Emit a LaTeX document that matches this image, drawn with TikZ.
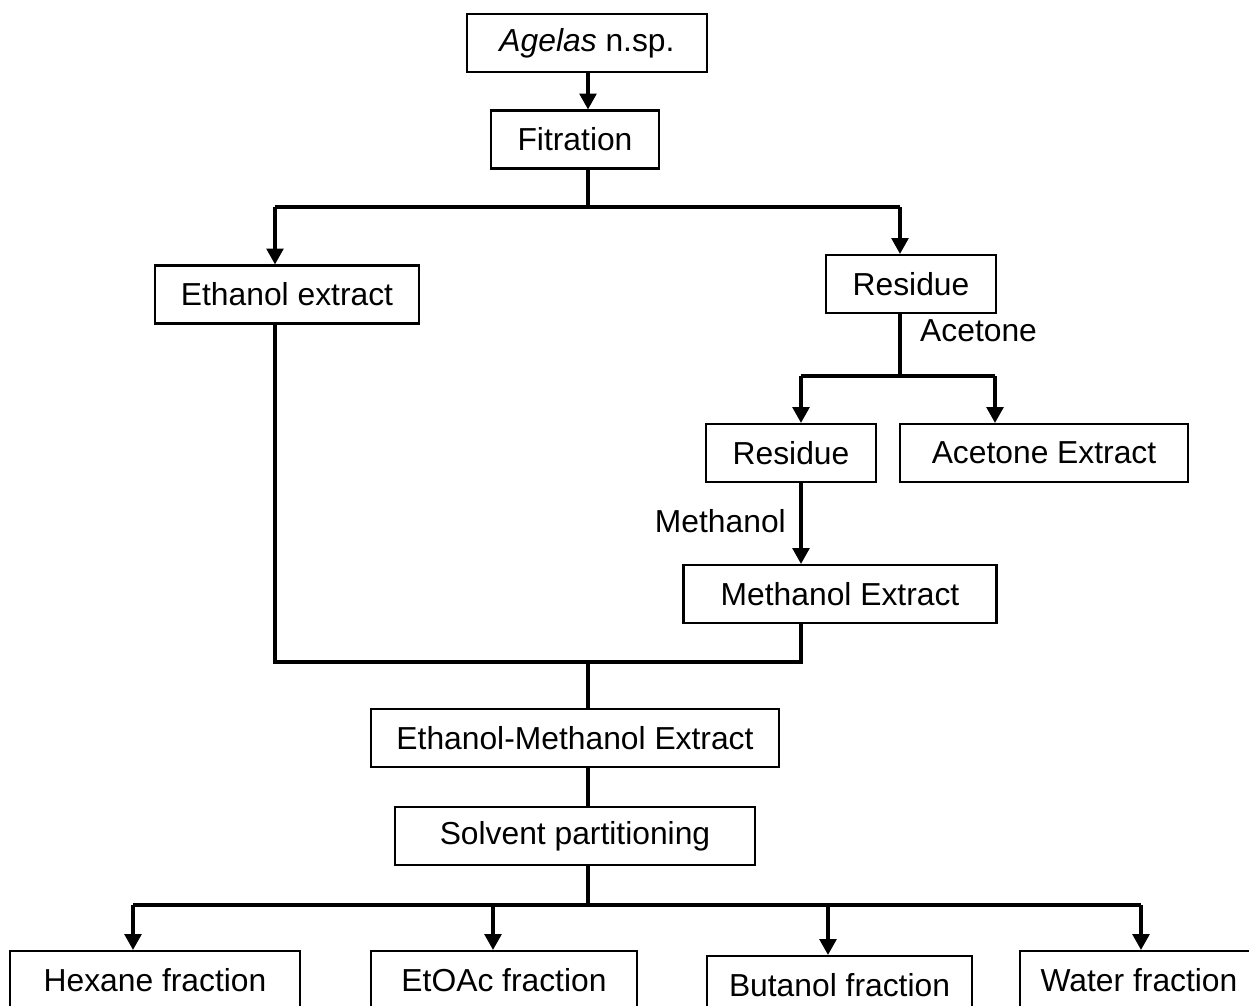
\documentclass[tikz,border=0pt]{standalone}
\usepackage{fontspec}
\setmainfont{Liberation Sans}
\usetikzlibrary{arrows.meta}

\begin{document}
\begin{tikzpicture}[x = 0.02cm, y = -0.02cm, font = \fontsize{18.1}{22}\selectfont,
	box/.style = {draw, black, line width = 1.2pt, inner sep = 0pt, minimum height = 1.16cm},
	link/.style = {draw, black, line width = 1.9pt},
	flow/.style = {link, -{Triangle[width = 9.5pt, length = 9pt]}}]
	\path[use as bounding box, clip] (0, 0) rectangle (1249, 1006);
	\node[box, minimum width = 4.8cm] (agelas) at (587, 43) {\textit{Agelas} n.sp.};
	\node[box, minimum width = 3.36cm] (fitration) at (575, 139.5) {Fitration};
	\node[box, minimum width = 5.28cm] (ethanol) at (287, 294.5) {Ethanol extract};
	\node[box, minimum width = 3.4cm] (residueA) at (911, 284) {Residue};
	\node[box, minimum width = 3.4cm] (residueB) at (791, 453) {Residue};
	\node[box, minimum width = 5.76cm] (acetone) at (1044, 453) {Acetone Extract};
	\node[box, minimum width = 6.26cm] (methanol) at (840, 594) {Methanol Extract};
	\node[box, minimum width = 8.16cm] (ethmeth) at (575, 738) {Ethanol-Methanol Extract};
	\node[box, minimum width = 7.2cm] (solvent) at (575, 836) {Solvent partitioning};
	\node[box, minimum width = 5.8cm] (hexane) at (155, 980) {Hexane fraction};
	\node[box, minimum width = 5.32cm] (etoac) at (504, 980) {EtOAc fraction};
	\node[box, minimum width = 5.3cm] (butanol) at (839.5, 985) {Butanol fraction};
	\node[box, minimum width = 4.76cm] (water) at (1139, 980) {Water fraction};
	\node[anchor = west] (acetonelbl) at (914, 331) {Acetone};
	\node[anchor = east] (methanollbl) at (792, 521) {Methanol};

	\coordinate (top) at (588, 207);
	\coordinate (topL) at (275, 207);
	\coordinate (topR) at (900, 207);
	\coordinate (acet) at (900, 376);
	\coordinate (acetL) at (801, 376);
	\coordinate (acetR) at (995, 376);
	\coordinate (join) at (588, 662);
	\coordinate (joinL) at (275, 662);
	\coordinate (joinR) at (801, 662);
	\coordinate (part) at (588, 905);
	\coordinate (partA) at (133, 905);
	\coordinate (partB) at (493, 905);
	\coordinate (partC) at (828, 905);
	\coordinate (partD) at (1141, 905);

	\draw[flow] (top |- agelas.south) -- (top |- fitration.north);
	\draw[link] (top |- fitration.south) -- (top);
	\draw[link] (topL) -- (topR);
	\draw[flow] (topL) -- (topL |- ethanol.north);
	\draw[flow] (topR) -- (topR |- residueA.north);
	\draw[link] (acet |- residueA.south) -- (acet);
	\draw[link] (acetL) -- (acetR);
	\draw[flow] (acetL) -- (acetL |- residueB.north);
	\draw[flow] (acetR) -- (acetR |- acetone.north);
	\draw[flow] (acetL |- residueB.south) -- (acetL |- methanol.north);
	\draw[link] (joinL |- ethanol.south) -- (joinL) -- (joinR) -- (joinR |- methanol.south);
	\draw[link] (join) -- (join |- ethmeth.north);
	\draw[link] (join |- ethmeth.south) -- (join |- solvent.north);
	\draw[link] (part |- solvent.south) -- (part);
	\draw[link] (partA) -- (partD);
	\foreach \p/\n in {partA/hexane, partB/etoac, partC/butanol, partD/water}
		\draw[flow] (\p) -- (\p |- \n.north);
\end{tikzpicture}
\end{document}
